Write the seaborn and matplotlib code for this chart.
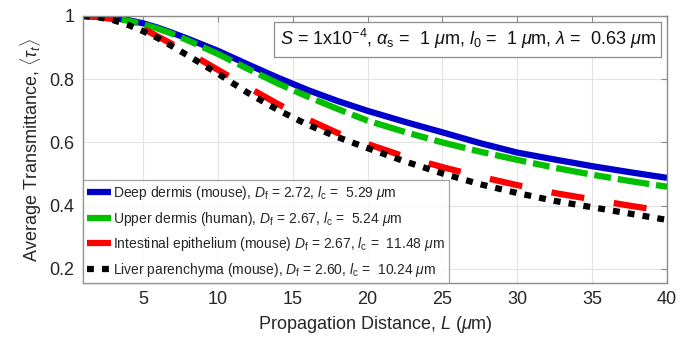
import numpy as np
import pandas as pd
import matplotlib
matplotlib.use("Agg")
import matplotlib.pyplot as plt
import seaborn as sns

# propagation distance (um)
L = [1, 2, 3, 4, 5, 6, 7, 8, 10, 12, 14, 16, 18, 20, 22.5, 25, 27.5, 30, 32.5, 35, 37.5, 40]

# average transmittance
deep_dermis = [1.0, 0.998, 0.994, 0.987, 0.977, 0.963, 0.946, 0.928, 0.89, 0.847, 0.805,
               0.766, 0.731, 0.70, 0.665, 0.632, 0.598, 0.568, 0.546, 0.525, 0.506, 0.488]
upper_dermis = [1.0, 0.998, 0.993, 0.985, 0.974, 0.96, 0.943, 0.923, 0.88, 0.833, 0.787,
                0.745, 0.706, 0.669, 0.633, 0.60, 0.571, 0.545, 0.52, 0.498, 0.478, 0.46]
intestinal = [1.0, 0.997, 0.99, 0.978, 0.96, 0.935, 0.91, 0.885, 0.83, 0.775, 0.722,
              0.673, 0.63, 0.595, 0.555, 0.522, 0.492, 0.465, 0.44, 0.42, 0.40, 0.382]
liver = [1.0, 0.996, 0.987, 0.972, 0.952, 0.93, 0.903, 0.875, 0.818, 0.757, 0.703,
         0.656, 0.617, 0.582, 0.54, 0.502, 0.468, 0.44, 0.415, 0.395, 0.375, 0.355]

labels = [
    r"Deep dermis (mouse), $D_\mathrm{f}$ = 2.72, $l_\mathrm{c}$ =  5.29 $\mu$m",
    r"Upper dermis (human), $D_\mathrm{f}$ = 2.67, $l_\mathrm{c}$ =  5.24 $\mu$m",
    r"Intestinal epithelium (mouse) $D_\mathrm{f}$ = 2.67, $l_\mathrm{c}$ =  11.48 $\mu$m",
    r"Liver parenchyma (mouse), $D_\mathrm{f}$ = 2.60, $l_\mathrm{c}$ =  10.24 $\mu$m",
]
colors = ["#0000cc", "#00c000", "#ff0000", "#000000"]
styles = ["-", (0, (5.1, 1.1, 2.7, 1.1)), (0, (5.3, 4.8)), (0, (1.1, 1.3))]

sns.set_style("whitegrid")
plt.rcParams["font.family"] = ["Liberation Sans", "DejaVu Sans"]
plt.rcParams["mathtext.fontset"] = "custom"
plt.rcParams["mathtext.rm"] = "Liberation Sans"
plt.rcParams["mathtext.it"] = "Liberation Sans:italic"
plt.rcParams["mathtext.bf"] = "Liberation Sans:bold"

fig = plt.figure(figsize=(6.8, 3.47), dpi=100)
ax = fig.add_axes([0.122, 0.184, 0.859, 0.77])

series = [deep_dermis, upper_dermis, intestinal, liver]
for vals, lab, c, ls in zip(series, labels, colors, styles):
    df = pd.DataFrame({"L": L, "T": vals})
    sns.lineplot(data=df, x="L", y="T", ax=ax, color=c, lw=4.5, linestyle=ls,
                 label=lab, dash_capstyle="butt", solid_capstyle="butt")

ax.set_xlim(1, 40)
ax.set_ylim(0.155, 1.0)
ax.set_xticks([5, 10, 15, 20, 25, 30, 35, 40])
ax.set_yticks([0.2, 0.4, 0.6, 0.8, 1.0])
ax.set_yticklabels(["0.2", "0.4", "0.6", "0.8", "1"])
ax.grid(True, color="#e3e3e3", lw=0.8)
for s in ax.spines.values():
    s.set_color("#8c8c8c")
    s.set_linewidth(1.0)
ax.tick_params(direction="in", length=4, color="#8c8c8c", labelsize=13,
               labelcolor="#262626", top=True, right=True, pad=6)

ax.set_xlabel(r"Propagation Distance, $L$ ($\mu$m)", fontsize=13, color="#262626")
ax.set_ylabel(r"Average Transmittance, $\langle\tau_t\rangle$", fontsize=13, color="#262626")

ax.text(0.981, 0.958, r"$S$ = 1x10$^{-4}$, $\alpha_\mathrm{s}$ =  1 $\mu$m, $l_0$ =  1 $\mu$m, $\lambda$ =  0.63 $\mu$m",
        transform=ax.transAxes, ha="right", va="top", fontsize=13, color="#111111",
        bbox=dict(boxstyle="square,pad=0.3", fc="white", ec="#8c8c8c", lw=0.9))

leg = ax.legend(loc="lower left", borderaxespad=0, fontsize=10, frameon=True,
                fancybox=False, edgecolor="#8c8c8c", handlelength=1.75,
                handletextpad=0.1, labelspacing=0.55, borderpad=0.3)
leg.get_frame().set_linewidth(0.9)

fig.savefig("out.png", dpi=100)
